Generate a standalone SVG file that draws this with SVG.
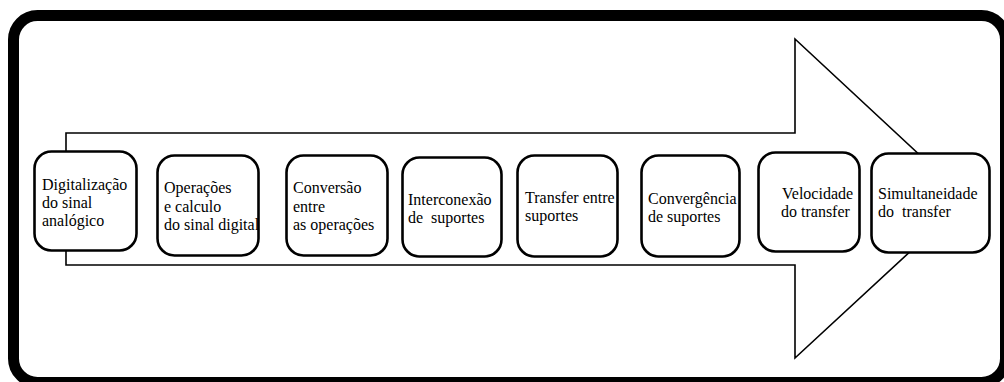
<svg xmlns="http://www.w3.org/2000/svg" width="1004" height="382" viewBox="0 0 1004 382">
<style>
.box{fill:#fff;stroke:#000;stroke-width:2.6}
.t{font-family:"Liberation Serif","Times New Roman",serif;font-size:16px;fill:#000;white-space:pre}
</style>
<rect x="0" y="0" width="1004" height="382" fill="#fff"/>
<rect x="13.5" y="15.5" width="992" height="367" rx="24" fill="#fff" stroke="#000" stroke-width="11"/>
<g id="connectors">
<polygon points="66,133 795,133 795,39 967,199 795,358 795,265 66,265" fill="#fff" stroke="#000" stroke-width="1.6" stroke-linejoin="miter"/>
</g>
<g id="n1"><rect class="box" x="34.5" y="151.5" width="102" height="99" rx="17"/>
<text class="t" x="42" y="190">Digitalização</text><text class="t" x="42" y="208">do sinal</text><text class="t" x="42" y="226">analógico</text></g>
<g id="n2"><rect class="box" x="157.5" y="155.5" width="101" height="100" rx="17"/>
<text class="t" x="164" y="193">Operações</text><text class="t" x="164" y="211.5">e calculo</text><text class="t" x="164" y="230">do sinal digital</text></g>
<g id="n3"><rect class="box" x="286.5" y="155.5" width="101" height="100" rx="17"/>
<text class="t" x="293" y="193">Conversão</text><text class="t" x="293" y="211.5">entre</text><text class="t" x="293" y="230">as operações</text></g>
<g id="n4"><rect class="box" x="402.5" y="157.5" width="99" height="99" rx="17"/>
<text class="t" x="408" y="205">Interconexão</text><text class="t" x="408" y="223">de  suportes</text></g>
<g id="n5"><rect class="box" x="517.5" y="155.5" width="100" height="101" rx="17"/>
<text class="t" x="525" y="203">Transfer entre</text><text class="t" x="525" y="221">suportes</text></g>
<g id="n6"><rect class="box" x="641.5" y="155.5" width="98" height="101" rx="17"/>
<text class="t" x="648" y="204">Convergência</text><text class="t" x="648" y="221.5">de suportes</text></g>
<g id="n7"><rect class="box" x="758.5" y="152.5" width="101" height="99" rx="17"/>
<text class="t" x="782" y="199">Velocidade</text><text class="t" x="781" y="217">do transfer</text></g>
<g id="n8"><rect class="box" x="871.5" y="153.5" width="118" height="99" rx="17"/>
<text class="t" x="878" y="199">Simultaneidade</text><text class="t" x="878" y="217">do  transfer</text></g>
</svg>
